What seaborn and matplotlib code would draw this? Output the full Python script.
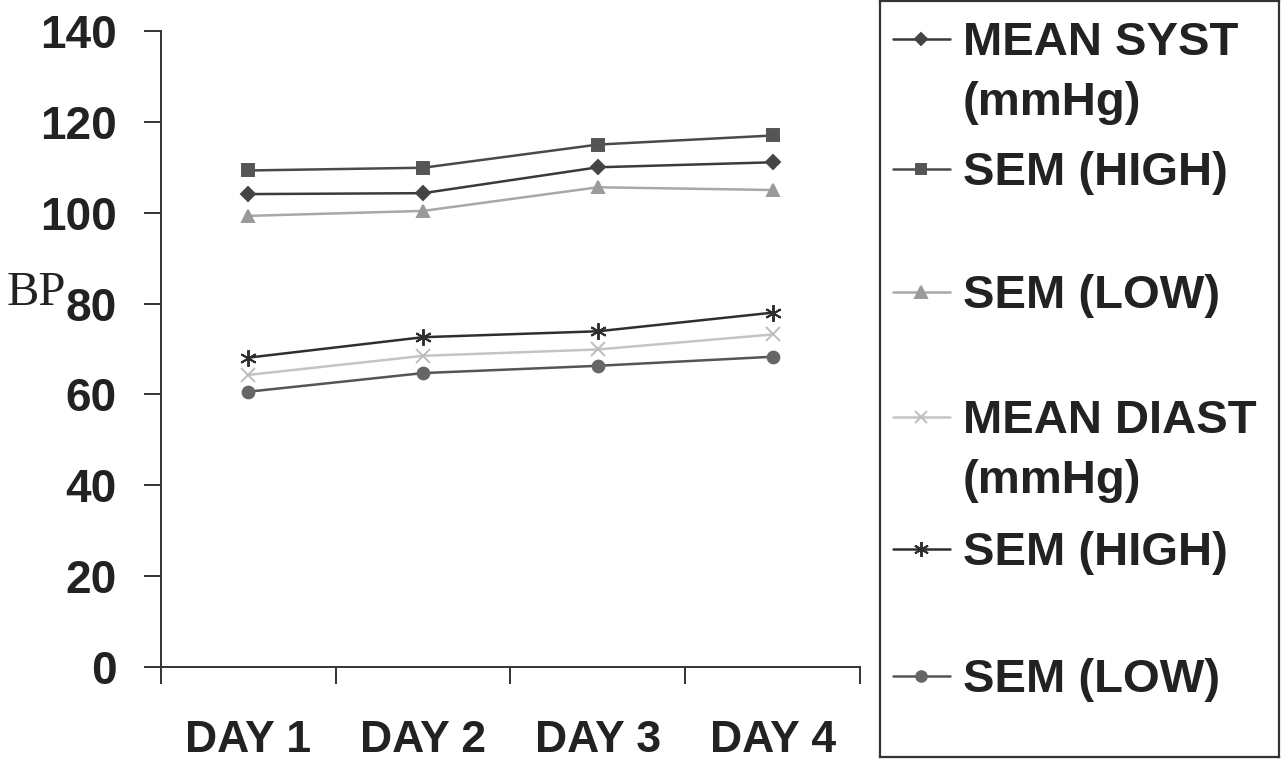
import seaborn as sns
import matplotlib.pyplot as plt
from matplotlib.ticker import FixedLocator, NullFormatter

sns.set_style('ticks')
plt.rcParams['font.family'] = ['Liberation Sans', 'DejaVu Sans']

days = ['DAY 1', 'DAY 2', 'DAY 3', 'DAY 4']
mean_syst = [104.1, 104.3, 110.0, 111.1]
syst_sem_high = [109.3, 109.9, 115.0, 117.0]
syst_sem_low = [99.3, 100.4, 105.6, 105.0]
mean_diast = [64.3, 68.5, 69.9, 73.2]
diast_sem_high = [68.1, 72.6, 73.9, 78.0]
diast_sem_low = [60.6, 64.7, 66.3, 68.3]

labels = ['MEAN SYST\n(mmHg)', 'SEM (HIGH)', 'SEM (LOW)',
          'MEAN DIAST\n(mmHg)', 'SEM (HIGH)', 'SEM (LOW)']
series = [mean_syst, syst_sem_high, syst_sem_low,
          mean_diast, diast_sem_high, diast_sem_low]
# (line colour, marker colour, marker, size)
styles = [('#3a3a3a', '#444444', 'D', 7),
          ('#4a4a4a', '#555555', 's', 8.5),
          ('#a8a8a8', '#9a9a9a', '^', 9),
          ('#c4c4c4', '#bdbdbd', 'x', 9.5),
          ('#2e2e2e', '#2e2e2e', (6, 2, 0), 12),
          ('#555555', '#666666', 'o', 8.5)]

fig = plt.figure(figsize=(12.86, 7.62), dpi=100)
ax = fig.add_axes([161/1286, 95/762, 699/1286, 636/762])

for vals, (lc, mc, mk, ms) in zip(series, styles):
    sns.lineplot(x=days, y=vals, ax=ax, color=lc, linewidth=1.8, marker=mk,
                 markersize=ms, markerfacecolor=mc, markeredgecolor=mc,
                 markeredgewidth=1.4)

ax.set_ylim(0, 140)
ax.set_yticks(range(0, 141, 20))
ax.set_xlim(-0.5, 3.5)
ax.xaxis.set_major_locator(FixedLocator([-0.5, 0.5, 1.5, 2.5, 3.5]))
ax.xaxis.set_major_formatter(NullFormatter())
ax.xaxis.set_minor_locator(FixedLocator([0, 1, 2, 3]))
ax.set_xticklabels(days, minor=True)
ax.tick_params(axis='x', which='minor', length=0, pad=38, labelsize=32)
ax.tick_params(axis='both', which='major', length=12, width=1.4, color='#333333')
ax.tick_params(axis='y', pad=20, labelsize=33)
for lab in ax.get_yticklabels() + ax.get_xticklabels(minor=True):
    lab.set_fontweight('bold')
    lab.set_color('#222222')

for s in ['left', 'bottom']:
    ax.spines[s].set_linewidth(1.4)
    ax.spines[s].set_color('#333333')
sns.despine(ax=ax)

ax.set_xlabel('')
ax.set_ylabel('BP', rotation=0, fontfamily='Liberation Serif', fontsize=35,
              color='#222222', ha='left', va='baseline')
ax.yaxis.set_label_coords(-0.2203, 0.569)

# legend box drawn in figure pixel coordinates
lax = fig.add_axes([880/1286, 5/762, 399/1286, 756/762])
lax.set_xlim(880, 1279)
lax.set_ylim(757, 1)
lax.set_xticks([])
lax.set_yticks([])
lax.patch.set_alpha(0)
for s in lax.spines.values():
    s.set_linewidth(1.6)
    s.set_color('#333333')

baselines = [55, 185, 308, 433, 565, 692]
for lab, base, (lc, mc, mk, ms) in zip(labels, baselines, styles):
    hy = base - 16
    lax.plot([893, 950], [hy, hy], color=lc, linewidth=1.8)
    lax.plot([921], [hy], linestyle='none', marker=mk, markersize=ms * 0.9,
             markerfacecolor=mc, markeredgecolor=mc, markeredgewidth=1.4)
    for i, line in enumerate(lab.split('\n')):
        lax.text(963, base + i * 60, line, fontsize=34, fontweight='bold',
                 color='#222222', ha='left', va='baseline')

fig.savefig('out.png', dpi=100)
